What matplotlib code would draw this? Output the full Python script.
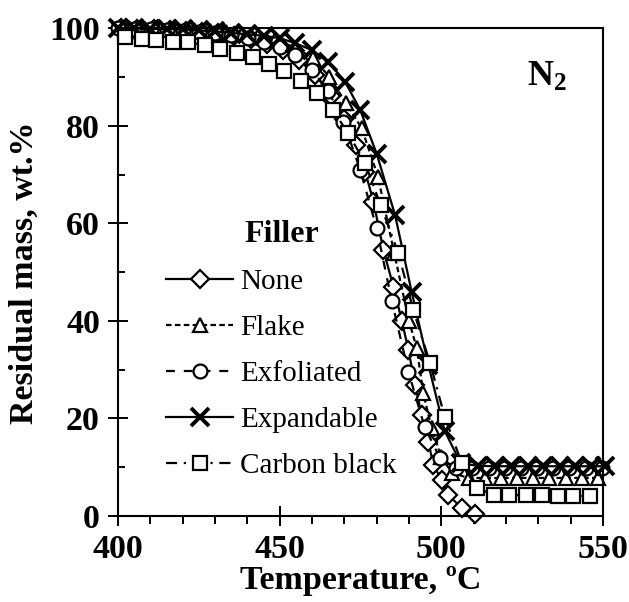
import matplotlib
matplotlib.use('Agg')
import matplotlib.pyplot as plt
from matplotlib.ticker import MultipleLocator

plt.rcParams['font.family'] = ['Liberation Serif', 'DejaVu Serif']
plt.rcParams['mathtext.fontset'] = 'custom'
plt.rcParams['mathtext.rm'] = 'Liberation Serif:bold'
plt.rcParams['mathtext.bf'] = 'Liberation Serif:bold'

# residual mass curves (N2 atmosphere)
t_none = [401, 406, 411, 416, 421, 426, 431, 436, 441, 446, 451, 456, 461, 466, 470,
          473.5, 476.5, 479, 482.1, 485.2, 487.8, 489.8, 491.9, 493.9, 496, 497.5,
          500.1, 502.2, 506.3, 510.5]
m_none = [100, 99.9, 99.8, 99.7, 99.5, 99.3, 99.0, 98.5, 97.9, 96.9, 95.6, 93.5, 90.5,
          86.2, 81.5, 76, 70.5, 64.5, 54.5, 47, 40, 34.1, 26.9, 20.7, 15.2, 10.5,
          7.4, 4.3, 1.6, 0.5]

t_flake = [403.4, 408.4, 413.4, 418.4, 423.4, 428.4, 433.4, 438.4, 443.4, 448.4, 455.2,
           460.2, 465.4, 470.5, 475.4, 480.4, 485.4, 490, 492.4, 494.4, 497, 500,
           503.4, 508.4, 513.4, 518.4, 523.4, 528.4, 533.4, 538.4, 543.4, 548.4]
m_flake = [100, 99.9, 99.8, 99.7, 99.6, 99.4, 99.2, 98.9, 98.4, 97.6, 96.0,
           93.9, 90.1, 84.7, 79.5, 69.6, 54, 40, 34.4, 25.2, 18, 12,
           8.8, 7.8, 7.8, 7.8, 7.8, 7.8, 7.8, 7.8, 7.8, 7.8]

t_exfol = [400.1, 405.1, 410.1, 415.1, 420.1, 425.1, 430.1, 435.1, 440.1, 445.1, 450.1,
           454.7, 459.9, 465, 469.7, 474.9, 480, 484.7, 489.8, 494.8, 499.6, 504.6,
           509.6, 514.6, 519.6, 524.6, 529.6, 534.6, 539.6, 544.6, 549.6]
m_exfol = [100, 99.9, 99.8, 99.7, 99.5, 99.3, 99.0, 98.6, 98.0, 97.3, 96.3,
           94.6, 91.5, 87.2, 80.9, 71.0, 59.0, 44.0, 29.6, 18.3, 11.8, 9.9,
           9.8, 9.8, 9.8, 9.8, 9.8, 9.8, 9.8, 9.8, 9.8]

t_expan = [400, 405, 410, 415, 420, 425, 430, 435, 440, 445, 450.1, 454.7, 459.9, 465,
           470.2, 474.9, 480, 485.7, 490.8, 496, 501, 506, 511.3, 516.5, 521.6, 526.8,
           531.4, 536.6, 541.3, 546.4, 550.6]
m_expan = [100, 100, 99.9, 99.9, 99.8, 99.6, 99.4, 99.1, 98.8, 98.5, 98.0, 97.0, 95.6, 93.2,
           89.1, 83.3, 74.3, 61.7, 46.0, 31, 17.5, 10.8, 10.3, 10.2, 10.2, 10.2,
           10.2, 10.2, 10.2, 10.2, 10.2]

t_cb = [402.2, 407.3, 411.9, 417.1, 421.7, 426.9, 431.5, 436.7, 441.6, 446.8, 451.3,
        456.5, 461.4, 466.4, 471.2, 476.4, 481.2, 486.7, 491.3, 496.5, 501.1, 506.3,
        510.9, 516.4, 521.0, 526.2, 531.1, 536.2, 540.8, 546.0]
m_cb = [98.2, 97.8, 97.6, 97.3, 97.2, 96.6, 95.7, 95.0, 94.2, 92.8, 91.3,
        89.3, 86.8, 83.3, 78.5, 72.4, 63.8, 53.9, 42.3, 31.4, 20.2, 10.9,
        5.7, 4.3, 4.3, 4.3, 4.2, 4.1, 4.1, 4.1]

fig = plt.figure(figsize=(6.29, 6.02), dpi=100)
ax = fig.add_axes([0.1876, 0.1429, 0.7711, 0.8098])

common = dict(color='black', lw=1.6, mfc='white', mec='black', mew=1.6, clip_on=False)
ax.plot(t_none, m_none, ls='-', marker='D', ms=9, label='None', **common)
ax.plot(t_flake, m_flake, ls=(0, (2.5, 1.5)), marker='^', ms=10, label='Flake', **common)
ax.plot(t_exfol, m_exfol, ls=(0, (4, 4)), marker='o', ms=10, label='Exfoliated', **common)
ax.plot(t_expan, m_expan, ls='-', marker='x', ms=13, label='Expandable',
        color='black', lw=1.6, mec='black', mew=2.8, clip_on=False)
ax.plot(t_cb, m_cb, ls=(0, (5, 3, 1, 3)), marker='s', ms=10.5, label='Carbon black', **common)

ax.set_xlim(400, 550)
ax.set_ylim(0, 100)
ax.xaxis.set_major_locator(MultipleLocator(50))
ax.xaxis.set_minor_locator(MultipleLocator(10))
ax.yaxis.set_major_locator(MultipleLocator(20))
ax.yaxis.set_minor_locator(MultipleLocator(10))
ax.tick_params(axis='both', which='major', direction='inout', length=14, width=1.4,
               labelsize=24.5, top=False, right=False)
ax.tick_params(axis='x', which='minor', direction='out', length=6, width=1.4)
ax.tick_params(axis='y', which='minor', direction='in', length=5, width=1.4)
ax.tick_params(axis='x', which='major', pad=6)
ax.tick_params(axis='y', which='major', pad=6)
for lab in ax.get_xticklabels() + ax.get_yticklabels():
    lab.set_fontweight('bold')
for sp in ax.spines.values():
    sp.set_linewidth(1.5)

ax.set_xlabel('Temperature, ºC', fontsize=24.5, fontweight='bold', labelpad=0)
ax.set_ylabel('Residual mass, wt.%', fontsize=24.5, fontweight='bold', labelpad=7)

ax.text(0.885, 0.90, r'$\mathbf{N_2}$', transform=ax.transAxes, fontsize=26,
        ha='center', va='center')

leg = ax.legend(loc='upper left', bbox_to_anchor=(0.099, 0.607), frameon=False,
                fontsize=21, title='Filler', handlelength=2.3, handletextpad=0.25,
                borderaxespad=0, borderpad=0, labelspacing=0.67)
leg.get_title().set_fontsize(23)
leg.get_title().set_fontweight('bold')

fig.savefig('out.png', dpi=100)
